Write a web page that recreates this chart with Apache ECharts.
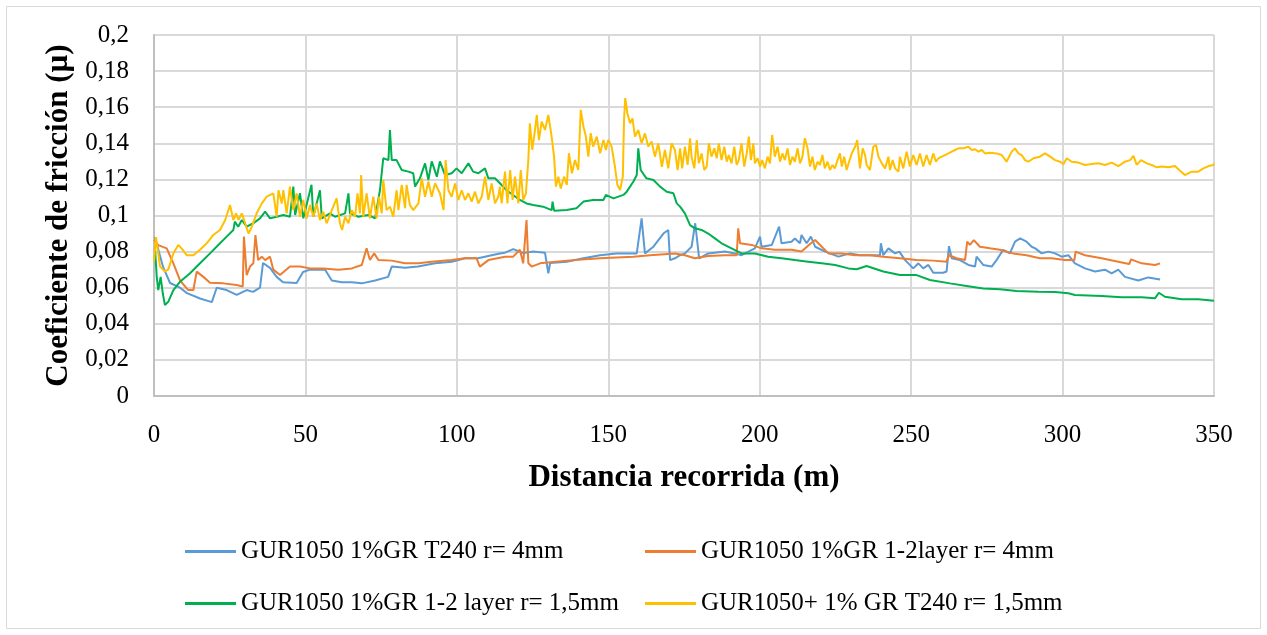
<!DOCTYPE html>
<html>
<head>
<meta charset="utf-8">
<script src="https://cdn.jsdelivr.net/npm/echarts@6/dist/echarts.min.js"></script>
<style>
  html, body { margin: 0; padding: 0; background: #fff; }
  #main { width: 1267px; height: 635px; }
</style>
</head>
<body>
<div id="main"></div>
<script>
// nombres de las series (leyenda)
var seriesNames = [
    'GUR1050 1%GR T240 r= 4mm',
    'GUR1050 1%GR 1-2layer r= 4mm',
    'GUR1050 1%GR 1-2 layer r= 1,5mm',
    'GUR1050+ 1% GR T240 r= 1,5mm'
];

// etiquetas del eje Y
var yLabels = ['0', '0,02', '0,04', '0,06', '0,08', '0,1', '0,12', '0,14', '0,16', '0,18', '0,2'];

// [distancia (m), coeficiente]
var blueData = [
    [0.3,0.088],[0.9,0.088],[3.0,0.0715],[5.3,0.0626],[8.6,0.060],[10.9,0.057],[15.2,0.054],[19.1,0.052],
    [20.7,0.060],[24.0,0.0587],[27.3,0.056],[30.6,0.0587],[32.7,0.0577],[35.0,0.060],[36.0,0.0737],[38.3,0.071],
    [40.5,0.066],[42.6,0.063],[47.1,0.0626],[49.2,0.0687],[51.5,0.070],[56.5,0.070],[58.7,0.064],[62,0.063],
    [65.3,0.063],[68.6,0.0624],[73,0.064],[77.3,0.066],[78.5,0.0717],[82.9,0.071],[87.2,0.0717],[92.8,0.0735],
    [98.3,0.0744],[102.7,0.0763],[107,0.0763],[111.5,0.078],[114.2,0.079],[115.9,0.0794],[118.6,0.0814],[121.9,0.0792],
    [125.2,0.080],[129.1,0.0794],[130.2,0.068],[130.8,0.0737],[136.3,0.0744],[141.8,0.0763],[147.3,0.078],[152.7,0.079],
    [159.4,0.079],[161,0.0984],[162.1,0.079],[164.9,0.0827],[168.2,0.090],[169.8,0.092],[170.4,0.0753],[172,0.0763],
    [173.7,0.078],[175.3,0.079],[177.5,0.0827],[178.7,0.0957],[180,0.0763],[183,0.079],[188.5,0.080],[191.8,0.079],
    [194,0.078],[198.4,0.0818],[200.1,0.0883],[200.6,0.0827],[204,0.0837],[206.4,0.0938],[207.2,0.0846],[210.5,0.0855],
    [211.6,0.0873],[213.3,0.0846],[213.8,0.0892],[215.5,0.0846],[216.9,0.0883],[218.3,0.0827],[221.6,0.080],[226,0.0772],
    [229.8,0.079],[233.1,0.078],[236.4,0.078],[239.7,0.078],[240,0.0846],[240.8,0.078],[242.5,0.0818],[244.7,0.079],
    [246.1,0.080],[248,0.0753],[250.7,0.0707],[252.4,0.0735],[254,0.0707],[255.7,0.0726],[257.3,0.0683],[260.6,0.0683],
    [261.7,0.069],[262.5,0.083],[263.4,0.0763],[266.1,0.0753],[268.9,0.0726],[271.1,0.0717],[271.6,0.0772],[273.8,0.0726],
    [276.6,0.0717],[278.2,0.0753],[280.4,0.081],[282.6,0.079],[284.3,0.0855],[286,0.0873],[288.1,0.0855],[289.8,0.0827],
    [291,0.0818],[293.1,0.079],[295.3,0.080],[297.5,0.079],[299.7,0.0772],[301.9,0.078],[304.1,0.0735],[307.4,0.0707],
    [310.7,0.069],[314,0.070],[316.2,0.068],[318.4,0.070],[320.6,0.066],[325,0.064],[328.3,0.0657],[332.2,0.0646]
];

var orangeData = [
    [0,0.0865],[1.4,0.0836],[4.2,0.0818],[6.4,0.0735],[8.6,0.064],[11.3,0.0587],[13,0.0587],[14.1,0.0689],
    [16.3,0.066],[18.5,0.0628],[22.9,0.0624],[27.3,0.0615],[29.3,0.0606],[29.7,0.0883],[30.6,0.067],[31.7,0.0717],
    [32.8,0.0735],[33.5,0.0892],[34.4,0.0753],[35.6,0.0772],[36.7,0.0753],[38.3,0.0772],[39.4,0.070],[41.6,0.067],
    [44.9,0.0717],[48.2,0.0717],[51.5,0.0707],[55.9,0.0707],[60.9,0.070],[65.3,0.0707],[68.6,0.0726],[70.2,0.0818],
    [71.3,0.0753],[72.7,0.079],[74.1,0.0753],[78.5,0.075],[82.9,0.0735],[87.3,0.0735],[91.6,0.0744],[98.3,0.0753],
    [102.7,0.0763],[106.5,0.0763],[107.6,0.0717],[110.4,0.0753],[115.9,0.0772],[118.6,0.0772],[120.8,0.081],[121.9,0.0735],
    [123,0.0975],[123.6,0.0735],[124.7,0.0717],[127.5,0.0735],[136.3,0.075],[147.3,0.0763],[158.3,0.0772],[163.8,0.078],
    [172,0.079],[175.3,0.078],[178.6,0.0763],[183,0.0776],[188.5,0.078],[192.4,0.078],[192.9,0.0929],[193.5,0.0846],
    [197.4,0.0837],[200.6,0.0818],[205,0.081],[210.5,0.081],[213.8,0.080],[216.9,0.0846],[218.3,0.0864],[220.5,0.0827],
    [222.7,0.079],[227,0.079],[231.5,0.078],[236.4,0.078],[240.8,0.0772],[246.3,0.0763],[251.8,0.0753],[257.3,0.075],
    [261.7,0.0744],[262.5,0.078],[265,0.0763],[267.8,0.0753],[268.5,0.0855],[269.4,0.0837],[270.7,0.0864],[272.7,0.0827],
    [276,0.0818],[279.3,0.081],[283.7,0.079],[288.1,0.078],[292.5,0.0763],[296.4,0.0763],[300.8,0.0753],[303.9,0.0753],
    [304.3,0.080],[307.4,0.078],[312.9,0.0763],[318.4,0.0744],[322,0.0731],[322.6,0.0757],[326.1,0.0735],[330.5,0.0726],
    [332.2,0.0735]
];

var greenData = [
    [0.3,0.0827],[0.9,0.066],[1.4,0.0587],[2.2,0.066],[2.9,0.0569],[3.6,0.0504],[4.7,0.0522],[6.4,0.0587],
    [8.6,0.0633],[11.9,0.068],[15.2,0.0735],[18.5,0.079],[21.8,0.0846],[24,0.0883],[26.2,0.092],[26.7,0.0966],
    [27.8,0.0938],[29,0.0975],[30.6,0.0938],[32.8,0.0957],[35,0.0984],[36.7,0.1021],[38.3,0.0984],[40.5,0.0993],
    [42.7,0.1003],[44.9,0.0993],[46,0.116],[46.6,0.1003],[48.2,0.1123],[49.3,0.0984],[52,0.117],[52.6,0.0993],
    [54.8,0.114],[55.4,0.0984],[58.1,0.1012],[59.8,0.0993],[63.1,0.1012],[64.2,0.1123],[64.7,0.1012],[67.5,0.0993],
    [70.8,0.1003],[73,0.0984],[74.6,0.114],[75.7,0.1317],[77.4,0.1307],[77.9,0.1474],[78.5,0.1307],[80.1,0.1307],
    [81.8,0.1252],[84,0.1243],[85.6,0.1234],[86.2,0.116],[87.8,0.1206],[89.5,0.1289],[90.6,0.1197],[91.7,0.13],
    [93.4,0.1215],[94.4,0.13],[96.1,0.1224],[98.3,0.1234],[99.9,0.1261],[101.6,0.1234],[103.8,0.1289],[105.4,0.1243],
    [107.1,0.1234],[109.3,0.1261],[110.4,0.1206],[112.6,0.1206],[114.7,0.117],[116.4,0.114],[120.8,0.1086],[123,0.1067],
    [125.2,0.1058],[128.5,0.1049],[131.3,0.103],[131.6,0.1077],[132.1,0.1027],[136.3,0.103],[139.5,0.104],[141.8,0.1077],
    [145,0.1086],[148.4,0.1086],[149.2,0.1114],[151.7,0.1095],[155,0.1114],[156.1,0.1132],[158.3,0.1188],[159.4,0.1224],
    [159.9,0.1372],[160.7,0.1252],[162.6,0.1206],[164.9,0.1197],[167.1,0.116],[169.3,0.1132],[171.5,0.1123],[172.6,0.1067],
    [173.7,0.1049],[175.3,0.1012],[177,0.0947],[178.6,0.0929],[180.8,0.092],[183,0.090],[185.2,0.0873],[187.4,0.0846],
    [190.7,0.0818],[194,0.079],[198.4,0.079],[202.8,0.0772],[207.2,0.0763],[211.6,0.0753],[216,0.0744],[220.5,0.0735],
    [224.9,0.0726],[229.3,0.0707],[232,0.0702],[235.3,0.072],[240.8,0.069],[246.3,0.067],[251.8,0.067],[256.2,0.0643],
    [262.8,0.0624],[268.3,0.061],[273.8,0.0596],[279.3,0.0591],[284.8,0.0582],[292,0.0578],[297.5,0.0576],[301.9,0.0569],
    [304.1,0.056],[312.9,0.0554],[319.5,0.0547],[326.1,0.0547],[330.5,0.0541],[331.8,0.0572],[333.8,0.055],[339.3,0.0536],
    [344.8,0.0536],[350,0.0528]
];

var yellowData = [
    [0,0.0744],[0.66,0.088],[2.0,0.0717],[3.6,0.069],[4.7,0.070],[6.4,0.079],[8.0,0.0837],[9.1,0.0818],
    [10.8,0.078],[13.0,0.078],[15.2,0.081],[17.4,0.0846],[19.6,0.0892],[21.8,0.092],[23.5,0.0975],[25.1,0.1058],
    [26.2,0.0975],[27.1,0.1012],[27.9,0.0975],[29.0,0.1012],[30.1,0.0957],[31.2,0.090],[32.3,0.0938],[33.9,0.1012],
    [35.6,0.1067],[37.2,0.1104],[39.4,0.1123],[40.5,0.0993],[41.1,0.114],[42.2,0.1067],[42.7,0.114],[43.8,0.1012],
    [44.9,0.116],[46.0,0.103],[47.1,0.1123],[48.2,0.0993],[49.3,0.1086],[50.4,0.0984],[51.5,0.1058],[52.6,0.0993],
    [53.7,0.1067],[54.8,0.0975],[55.9,0.1021],[57.0,0.0957],[59.2,0.1049],[60.3,0.1095],[61.4,0.0957],[62.1,0.092],
    [63.1,0.0993],[64.2,0.0957],[65.3,0.103],[66.4,0.0993],[67.2,0.1123],[68,0.1012],[68.4,0.1224],[69.1,0.0993],
    [70.2,0.1123],[71.3,0.0984],[72.4,0.1104],[73.5,0.0984],[74.3,0.1104],[75.2,0.1012],[75.7,0.1197],[76.8,0.103],
    [77.9,0.1049],[79,0.0993],[80.1,0.114],[80.7,0.103],[81.8,0.117],[82.9,0.104],[83.4,0.117],[84.5,0.1058],
    [85.6,0.103],[87.3,0.1067],[88.4,0.1206],[89.5,0.1104],[90.6,0.1188],[91.7,0.1104],[92.8,0.1178],[94.4,0.1123],
    [95.6,0.103],[96.3,0.1307],[97.2,0.114],[98.3,0.1104],[99.4,0.1178],[100.5,0.1086],[101.6,0.114],[102.7,0.1086],
    [103.8,0.1123],[104.9,0.1077],[106,0.1132],[107.1,0.1067],[108.2,0.1104],[109.3,0.1215],[110.4,0.1086],[111.5,0.1178],
    [112.6,0.1067],[113.7,0.1104],[114.2,0.116],[114.8,0.1067],[115.9,0.1243],[116.7,0.1067],[117.6,0.1252],[118.4,0.1086],
    [119.2,0.1215],[120.3,0.1067],[121.1,0.1252],[121.9,0.1086],[122.8,0.1123],[123.6,0.1307],[124.1,0.1511],[124.9,0.1363],
    [125.8,0.1474],[126.4,0.1557],[127.1,0.1418],[128,0.152],[129.1,0.1474],[130.2,0.1557],[131.3,0.1437],[132.1,0.1326],
    [132.7,0.116],[133.5,0.1215],[134.3,0.115],[135.4,0.1215],[136.3,0.117],[137,0.1345],[138,0.1234],[139,0.1307],
    [140.1,0.1252],[140.9,0.1585],[141.8,0.1493],[142.6,0.1437],[143.4,0.1326],[144.2,0.1456],[145,0.1382],[146.2,0.1437],
    [147.3,0.1345],[148.4,0.1418],[149.2,0.1363],[150,0.1418],[151.1,0.1382],[152.2,0.127],[153,0.117],[153.9,0.1141],
    [154.8,0.1215],[155.2,0.1529],[155.6,0.165],[156.3,0.1566],[157.2,0.1511],[158,0.1538],[158.8,0.1437],[159.9,0.1474],
    [161,0.14],[162.1,0.1455],[163.2,0.1382],[164.3,0.141],[165.4,0.1326],[166.5,0.14],[167.7,0.127],[168.7,0.1363],
    [169.8,0.1261],[170.9,0.14],[172.0,0.1363],[172.9,0.1252],[173.7,0.1372],[174.4,0.1261],[175.3,0.1381],[176.2,0.128],
    [177.0,0.1428],[177.5,0.1326],[178.4,0.1261],[179.2,0.1418],[179.9,0.1289],[180.8,0.1344],[181.7,0.1252],[182.5,0.1271],
    [183.2,0.14],[184.1,0.1326],[185.0,0.1372],[185.8,0.1317],[186.5,0.14],[187.4,0.1307],[188.3,0.1381],[189.1,0.1298],
    [189.8,0.1335],[190.7,0.1289],[191.6,0.1381],[192.4,0.128],[193.1,0.1307],[194.0,0.14],[194.9,0.1271],[195.7,0.1344],
    [196.4,0.1437],[197.1,0.1307],[197.9,0.14],[198.4,0.1289],[199.3,0.1317],[200.1,0.1271],[200.8,0.1307],[201.7,0.1261],
    [202.6,0.1326],[203.4,0.1289],[204.1,0.1446],[205.0,0.1326],[205.9,0.1381],[206.7,0.1298],[207.5,0.1344],[208.3,0.1307],
    [209.2,0.1372],[210.0,0.128],[210.8,0.1326],[211.6,0.1298],[212.5,0.1372],[213.3,0.1289],[214.1,0.1326],[214.9,0.1428],
    [215.8,0.1372],[216.6,0.1271],[217.4,0.1326],[218.2,0.1252],[219.1,0.1298],[219.9,0.128],[220.7,0.1335],[221.5,0.1261],
    [222.4,0.1298],[223.2,0.1252],[224.0,0.128],[224.8,0.1261],[225.7,0.1307],[226.5,0.1344],[227.1,0.1271],[227.9,0.1326],
    [228.7,0.1252],[229.5,0.1298],[230.4,0.1344],[231.5,0.1381],[232.2,0.1418],[233.1,0.1261],[234.0,0.1372],[234.8,0.1335],
    [235.3,0.128],[236.4,0.1252],[237.5,0.1381],[238.4,0.1391],[239.2,0.1326],[240.3,0.1289],[241.4,0.1261],[242.5,0.1326],
    [243.0,0.1252],[243.9,0.1307],[244.7,0.1261],[245.8,0.1243],[246.3,0.1326],[247.4,0.1261],[248.5,0.1354],[249.6,0.1271],
    [250.7,0.1335],[251.8,0.128],[252.9,0.1344],[254.0,0.1271],[255.1,0.1335],[256.2,0.128],[257.3,0.1344],[258.2,0.1298],
    [259.0,0.1317],[260.1,0.1326],[261.2,0.1335],[262.3,0.1344],[263.4,0.1354],[264.5,0.1363],[265.6,0.1372],[267.2,0.1372],
    [268.9,0.1381],[270.0,0.1363],[271.1,0.1367],[272.2,0.1354],[273.3,0.1363],[274.4,0.1344],[276.0,0.1348],[278.2,0.1344],
    [279.9,0.1335],[281.5,0.1298],[283.2,0.1354],[284.3,0.1372],[285.4,0.1344],[286.5,0.1335],[287.6,0.1307],[288.7,0.1298],
    [290.4,0.1317],[292.5,0.1326],[294.2,0.1344],[295.9,0.1326],[297.5,0.1307],[299.2,0.1298],[300.3,0.1285],[301.4,0.1317],
    [303.0,0.1298],[305.2,0.1293],[307.4,0.128],[309.6,0.1285],[311.8,0.1289],[314.0,0.128],[316.2,0.1293],[318.4,0.1274],
    [320.6,0.1298],[322.3,0.1307],[323.4,0.133],[324.5,0.128],[325.9,0.1307],[327.8,0.1289],[329.4,0.128],[331.1,0.1267],
    [332.7,0.1271],[334.9,0.1267],[337.1,0.1274],[338.8,0.1248],[340.4,0.1224],[342.6,0.1243],[344.8,0.1243],[346.5,0.1261],
    [348.2,0.1274],[349.8,0.128],[350,0.1289]
];

var colors = ['#5B9BD5', '#ED7D31', '#00B050', '#FFC000'];
var allData = [blueData, orangeData, greenData, yellowData];
var font = '"Liberation Serif", "DejaVu Serif", serif';

var myChart = echarts.init(document.getElementById('main'));

// una leyenda por elemento para colocarlos en dos filas
var legendPos = [[185, 539], [645, 539], [185, 591], [645, 591]];
var legends = seriesNames.map(function (n, i) {
    return {
        data: [n],
        left: legendPos[i][0],
        top: legendPos[i][1],
        padding: 0,
        icon: 'rect',
        itemWidth: 51,
        itemHeight: 3,
        selectedMode: false,
        textStyle: { fontFamily: font, fontSize: 25, color: '#000' }
    };
});

var option = {
    animation: false,
    color: colors,
    grid: { left: 154, right: 53, top: 35, bottom: 239, containLabel: false },
    graphic: [{
        type: 'rect',
        shape: { x: 6.5, y: 6.5, width: 1254, height: 622 },
        style: { fill: 'none', stroke: '#d9d9d9', lineWidth: 1 }
    }],
    legend: legends,
    xAxis: {
        type: 'value',
        min: 0,
        max: 350,
        interval: 50,
        name: 'Distancia recorrida (m)',
        nameLocation: 'middle',
        nameGap: 66,
        nameTextStyle: { fontFamily: font, fontSize: 31, fontWeight: 'bold', color: '#000' },
        axisLine: { show: true, lineStyle: { color: '#bfbfbf', width: 2 } },
        axisTick: { show: false },
        axisLabel: { fontFamily: font, fontSize: 25, color: '#000', margin: 27 },
        splitLine: { show: true, lineStyle: { color: '#d9d9d9', width: 2 } }
    },
    yAxis: {
        type: 'value',
        min: 0,
        max: 0.2,
        interval: 0.02,
        name: 'Coeficiente de fricción (µ)',
        nameLocation: 'middle',
        nameGap: 78,
        nameTextStyle: { fontFamily: font, fontSize: 31, fontWeight: 'bold', color: '#000' },
        axisLine: { show: true, lineStyle: { color: '#bfbfbf', width: 2 } },
        axisTick: { show: false },
        axisLabel: {
            fontFamily: font, fontSize: 25, color: '#000', margin: 25,
            formatter: function (v) { return yLabels[Math.round(v / 0.02)]; }
        },
        splitLine: { show: true, lineStyle: { color: '#d9d9d9', width: 2 } }
    },
    series: seriesNames.map(function (n, i) {
        return {
            name: n,
            type: 'line',
            data: allData[i],
            showSymbol: false,
            symbol: 'none',
            lineStyle: { width: 2, color: colors[i] },
            itemStyle: { color: colors[i] }
        };
    })
};

myChart.setOption(option);
</script>
</body>
</html>
